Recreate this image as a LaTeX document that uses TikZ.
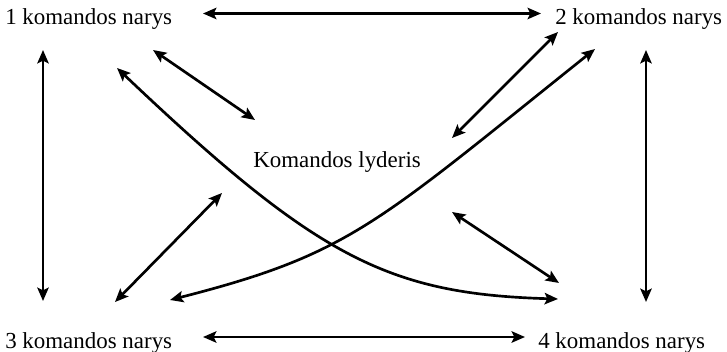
\documentclass[tikz,border=0pt]{standalone}
\usepackage{fontspec}
\setmainfont{Liberation Serif}
\usepackage{tikz}
\usetikzlibrary{arrows.meta, positioning}

\begin{document}
\begin{tikzpicture}[x=0.75pt, y=-0.75pt,
        member/.style={inner sep=0pt, anchor=base west, font=\fontsize{17.2}{20}\selectfont},
        arrow/.style={{Stealth[length=10pt, width=8.5pt, inset=2pt]}-{Stealth[length=10pt, width=8.5pt, inset=2pt]}, line width=2pt}
      ]
        \useasboundingbox (0,0) rectangle (727,352);

        % team members and leader
        \node[member] (m1)   at (5,25)    {1 komandos narys};
        \node[member] (m2)   at (555,25)  {2 komandos narys};
        \node[member] (m3)   at (5,348)   {3 komandos narys};
        \node[member] (m4)   at (538,348) {4 komandos narys};
        \node[member] (lead) at (253,168) {Komandos lyderis};

        % arrow ends
        \coordinate (m1e) at (203,13.5);  \coordinate (m2w) at (541,13.5);
        \coordinate (m3e) at (203,337);   \coordinate (m4w) at (525,337);
        \coordinate (m1s) at (43,50);     \coordinate (m3n) at (43,301);
        \coordinate (m2s) at (646,50);    \coordinate (m4n) at (646,302);
        \coordinate (m1l) at (153,50);    \coordinate (l1)  at (255,120);
        \coordinate (m2l) at (558,32);    \coordinate (l2)  at (452,138);
        \coordinate (m3l) at (115,302);   \coordinate (l3)  at (222,193);
        \coordinate (m4l) at (559,283);   \coordinate (l4)  at (452,212);
        \coordinate (m1x) at (117,68);    \coordinate (m4x) at (558,299);
        \coordinate (m2x) at (595,49);    \coordinate (m3x) at (170,300);

        \draw[arrow] (m1e) -- (m2w);
        \draw[arrow] (m3e) -- (m4w);
        \draw[arrow] (m1s) -- (m3n);
        \draw[arrow] (m2s) -- (m4n);
        \draw[arrow] (m1l) -- (l1);
        \draw[arrow] (m2l) -- (l2);
        \draw[arrow] (m3l) -- (l3);
        \draw[arrow] (m4l) -- (l4);
        \draw[arrow] (m1x) .. controls (317,258) and (388,294) .. (m4x);
        \draw[arrow] (m2x) .. controls (375,225) and (350,254) .. (m3x);
      \end{tikzpicture}
\end{document}
